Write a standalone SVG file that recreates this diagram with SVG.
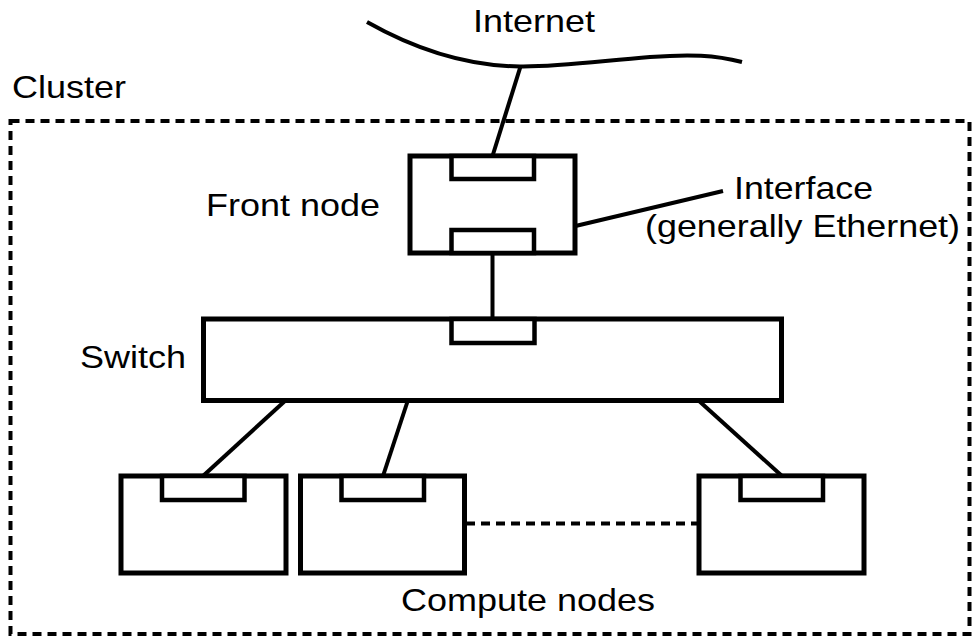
<svg xmlns="http://www.w3.org/2000/svg" width="974" height="640" viewBox="0 0 974 640">
  <style>
    .box { fill: #ffffff; stroke: #000000; stroke-width: 5; }
    .nic { fill: #ffffff; stroke: #000000; stroke-width: 4.5; }
    .wire { fill: none; stroke: #000000; stroke-width: 4; }
    .dash { fill: none; stroke: #000000; stroke-width: 4; stroke-dasharray: 9 6; }
    .label { font-family: "Liberation Sans", Arial, sans-serif; font-size: 32px; fill: #000000; }
  </style>

  <rect width="974" height="640" fill="#ffffff"/>

  <!-- Internet cloud line -->
  <g id="internet">
    <path class="wire" d="M367,22 C420,52 470,66 520,66.5 C560,67 600,61 650,57 C690,54 715,55 742,62"/>
    <text class="label" x="473" y="32" textLength="122" lengthAdjust="spacingAndGlyphs">Internet</text>
  </g>

  <!-- Cluster boundary -->
  <g id="cluster">
    <rect class="dash" x="10.5" y="121" width="959" height="513"/>
    <text class="label" x="12" y="98" textLength="114" lengthAdjust="spacingAndGlyphs">Cluster</text>
  </g>

  <!-- Connectors -->
  <g id="connectors">
    <line class="wire" x1="520.5" y1="66.5" x2="492.5" y2="156"/>
    <line class="wire" x1="492.5" y1="253" x2="492.5" y2="319"/>
    <line class="wire" x1="286" y1="400" x2="203" y2="476"/>
    <line class="wire" x1="408" y1="400" x2="383" y2="476"/>
    <line class="wire" x1="698" y1="400" x2="782" y2="476"/>
    <line class="dash" x1="466" y1="523.5" x2="699" y2="523.5"/>
    <line class="wire" x1="546" y1="233" x2="723" y2="191"/>
  </g>

  <!-- Front node -->
  <g id="front-node">
    <rect class="box" x="410" y="156" width="165" height="97"/>
    <rect class="nic" x="451.5" y="156" width="82.5" height="23"/>
    <rect class="nic" x="451.5" y="230" width="82.5" height="23"/>
    <text class="label" x="206" y="216" textLength="174" lengthAdjust="spacingAndGlyphs">Front node</text>
  </g>

  <!-- Interface annotation -->
  <g id="interface-label">
    <text class="label" x="734" y="199" textLength="139" lengthAdjust="spacingAndGlyphs">Interface</text>
    <text class="label" x="645" y="237" textLength="315" lengthAdjust="spacingAndGlyphs">(generally Ethernet)</text>
  </g>

  <!-- Switch -->
  <g id="switch">
    <rect class="box" x="203.5" y="319" width="578" height="81.5"/>
    <rect class="nic" x="451.5" y="319" width="83" height="24"/>
    <text class="label" x="80" y="368" textLength="106" lengthAdjust="spacingAndGlyphs">Switch</text>
  </g>

  <!-- Compute nodes -->
  <g id="compute-1">
    <rect class="box" x="121" y="476" width="165" height="97"/>
    <rect class="nic" x="162" y="476" width="82.5" height="24"/>
  </g>
  <g id="compute-2">
    <rect class="box" x="300.5" y="476" width="164" height="97"/>
    <rect class="nic" x="341.5" y="476" width="82.5" height="24"/>
  </g>
  <g id="compute-3">
    <rect class="box" x="699" y="476" width="165" height="97"/>
    <rect class="nic" x="740.5" y="476" width="82.5" height="24"/>
  </g>
  <g id="compute-label">
    <text class="label" x="401" y="611" textLength="254" lengthAdjust="spacingAndGlyphs">Compute nodes</text>
  </g>
</svg>
